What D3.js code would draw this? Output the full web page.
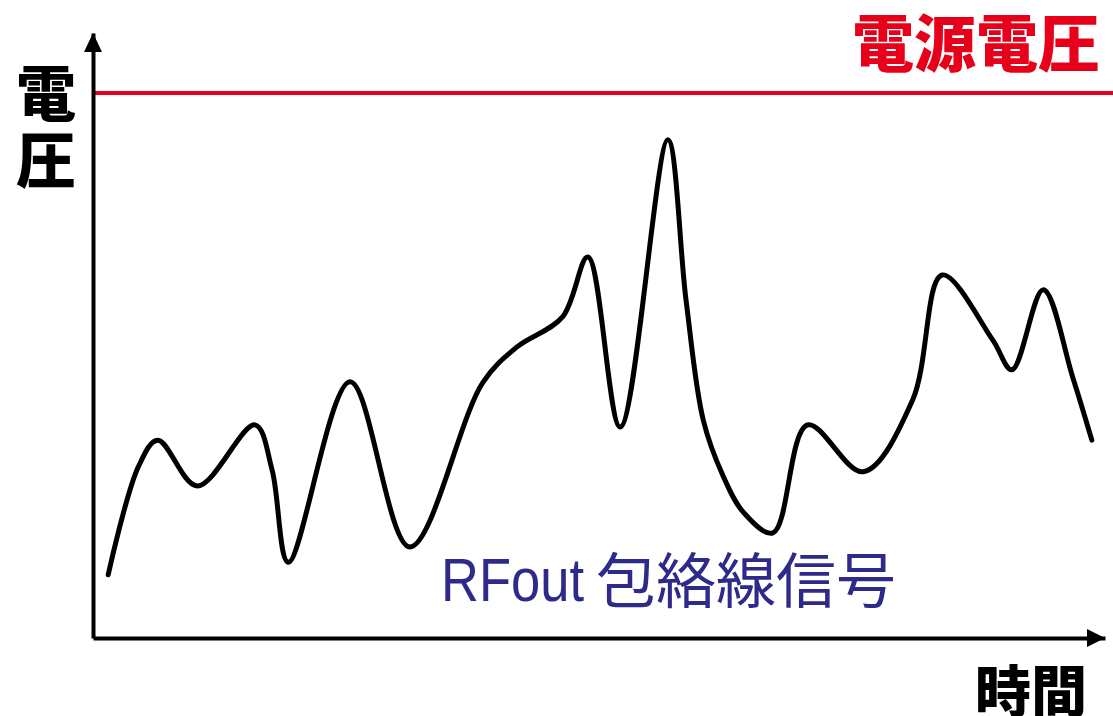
<!DOCTYPE html>
<html>
<head>
  <meta charset="utf-8" />
  <title>RFout 包絡線信号</title>
  <style type="text/css">
  body {
    margin: 0;
    background: #fff;
  }
  svg { display: block; }
  </style>
</head>
<body>

<div id="graph"></div>

<script src="https://cdn.jsdelivr.net/npm/d3@7"></script>
<script>
// time (0..100 = arrow tip) and envelope voltage (100 = supply voltage)
var times    = [1.5, 4.5, 6.4, 10.3, 16.0, 17.7, 19.3, 25.4, 31.3, 38.5, 41.9, 46.4, 48.9, 52.1, 56.8, 58.6, 60.3, 62.2, 64.3, 67.2, 70.6, 76.1, 81.0, 83.9, 88.9, 90.8, 93.9, 96.8, 98.7];
var voltages = [11.6, 31.5, 36.3, 27.9, 39.1, 30.8, 13.9, 47.0, 16.7, 46.8, 53.4, 58.9, 69.9, 38.7, 91.4, 62.0, 40.0, 30.0, 23.0, 19.3, 39.1, 30.5, 43.7, 66.6, 54.7, 49.2, 63.9, 47.9, 36.3];
var supplyVoltage = 100;

var labels = {
  supply: "電源電圧",
  yAxis: ["電", "圧"],
  xAxis: "時間",
  signalLatin: "RFout",
  signalCjk: "包絡線信号"
};

var width = 1113, height = 716;
var cjk = "'Noto Sans CJK JP', 'Noto Sans CJK SC', sans-serif";

var x = d3.scaleLinear().domain([0, 100]).range([93, 1105]);
var y = d3.scaleLinear().domain([0, 111]).range([638, 33]);

var svg = d3.select("#graph").append("svg")
    .attr("width", width)
    .attr("height", height);

// supply voltage line
svg.append("line")
    .attr("x1", x(0)).attr("x2", width)
    .attr("y1", y(supplyVoltage)).attr("y2", y(supplyVoltage))
    .attr("stroke", "#e8001a")
    .attr("stroke-width", 4);

// axes (no ticks, just the lines)
svg.append("g")
    .attr("transform", "translate(0," + y(0) + ")")
    .call(d3.axisBottom(x).tickValues([]).tickSizeOuter(0));
svg.append("g")
    .attr("transform", "translate(" + x(0) + ",0)")
    .call(d3.axisLeft(y).tickValues([]).tickSizeOuter(0));

svg.selectAll(".domain")
    .attr("stroke", "#000")
    .attr("stroke-width", 4);

// arrow heads
svg.append("path")
    .attr("d", "M" + x(100) + "," + y(0) + " L" + (x(100) - 18) + "," + (y(0) - 9) + " L" + (x(100) - 18) + "," + (y(0) + 9) + "Z")
    .attr("fill", "#000");
svg.append("path")
    .attr("d", "M" + x(0) + "," + y(111) + " L" + (x(0) - 9) + "," + (y(111) + 19) + " L" + (x(0) + 9) + "," + (y(111) + 19) + "Z")
    .attr("fill", "#000");

// envelope signal
var pts = times.map(function(t, i) { return [t, voltages[i]]; });
var line = d3.line()
    .x(function(d) { return x(d[0]); })
    .y(function(d) { return y(d[1]); })
    .curve(d3.curveCatmullRom.alpha(0.5));

svg.append("path")
    .datum(pts)
    .attr("d", line)
    .attr("fill", "none")
    .attr("stroke", "#000")
    .attr("stroke-width", 5)
    .attr("stroke-linejoin", "round")
    .attr("stroke-linecap", "round");

// texts
svg.append("text")
    .attr("x", 1100).attr("y", 67)
    .attr("text-anchor", "end")
    .attr("font-family", cjk)
    .attr("font-weight", 900)
    .attr("font-size", 62)
    .attr("fill", "#e8001a")
    .text(labels.supply);

// vertical y label, one char per line
svg.append("text")
    .attr("y", 116)
    .attr("text-anchor", "middle")
    .attr("font-family", cjk)
    .attr("font-weight", 900)
    .attr("font-size", 60)
    .attr("fill", "#000")
  .selectAll("tspan")
    .data(labels.yAxis)
  .enter().append("tspan")
    .attr("x", 46)
    .attr("dy", function(d, i) { return i ? 67 : 0; })
    .text(function(d) { return d; });

svg.append("text")
    .attr("x", 1031).attr("y", 712)
    .attr("text-anchor", "middle")
    .attr("font-family", cjk)
    .attr("font-weight", 900)
    .attr("font-size", 56)
    .attr("fill", "#000")
    .text(labels.xAxis);

svg.append("text")
    .attr("x", 441).attr("y", 601)
    .attr("font-family", "'Liberation Sans', Arial, sans-serif")
    .attr("font-size", 62)
    .attr("textLength", 143)
    .attr("lengthAdjust", "spacingAndGlyphs")
    .attr("fill", "#2d2a8a")
    .text(labels.signalLatin);

svg.append("text")
    .attr("x", 596).attr("y", 603)
    .attr("font-family", cjk)
    .attr("font-size", 60)
    .attr("fill", "#2d2a8a")
    .text(labels.signalCjk);
</script>
</body>
</html>
